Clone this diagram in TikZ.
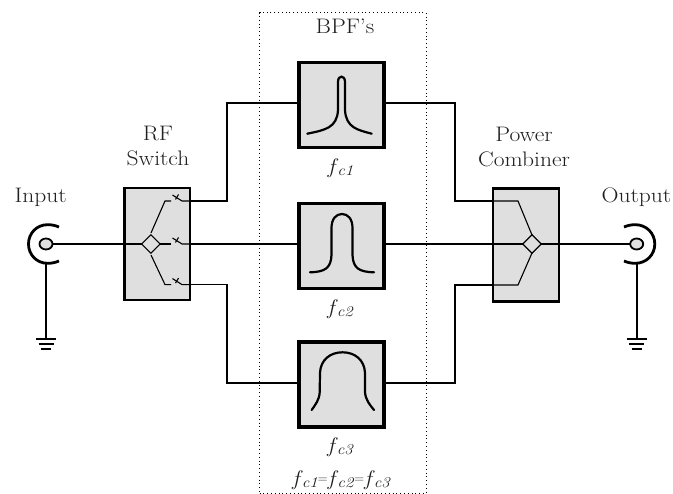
\documentclass[tikz,border=0pt]{standalone}
\usepackage{fontspec}
\setmainfont{Latin Modern Roman}[FakeStretch=1.12]
\usetikzlibrary{calc,shapes.geometric}
\definecolor{boxfill}{HTML}{DFDFDF}
\definecolor{txt}{HTML}{202020}
\newcommand{\fc}[1]{\textit{f}\hspace{-1pt}\raisebox{-2pt}{\fontsize{15}{16}\selectfont\textit{c#1}}}
\newcommand{\eqs}{\raisebox{3pt}{\fontsize{12}{12}\selectfont=}}
\tikzset{
  lab/.style={text=txt,inner sep=0,outer sep=0,font=\fontsize{21}{24}\selectfont,align=center},
  flab/.style={text=txt,inner sep=0,outer sep=0,font=\fontsize{21}{22}\selectfont},
  wire/.style={line width=1.6pt},
  thinwire/.style={line width=1.1pt},
  unit/.style={draw=black,fill=boxfill,line width=2.2pt,inner sep=0,outer sep=0},
  bpf/.style={draw=black,fill=boxfill,line width=3.4pt,minimum width=85pt,minimum height=85pt,inner sep=0,outer sep=0},
  curve/.style={line width=2.2pt,line cap=round},
  port/.style={ellipse,draw=black,fill=boxfill,line width=1.8pt,minimum width=13pt,minimum height=11pt,inner sep=0,outer sep=0},
  dia/.style={line width=1.1pt,fill=boxfill},
  bar/.style={line width=1.5pt},
  ring/.style={line width=2.8pt}
}
\begin{document}
\begin{tikzpicture}[x=1pt,y=-1pt]
\useasboundingbox (0,0) rectangle (673,494);
% dotted frame
\node[draw=black,line width=0.8pt,dash pattern=on 0.8pt off 3pt,minimum width=166.5pt,minimum height=480.5pt,inner sep=0,outer sep=0] (frame) at (342.8,252.8) {};
% filters
\node[bpf] (f1) at (341.5,105) {};
\node[bpf] (f2) at (341.5,245.8) {};
\node[bpf] (f3) at (341.5,384.5) {};
% units
\node[unit,minimum width=65.5pt,minimum height=112pt] (sw) at (157.3,244) {};
\node[unit,minimum width=65.5pt,minimum height=113pt] (pc) at (526,245) {};
% internal coordinates
\coordinate (swU) at (190.3,201);
\coordinate (swM) at (190.3,244);
\coordinate (swL) at (190.3,284.6);
\coordinate (j1) at (227,201);
\coordinate (j2) at (227,103);
\coordinate (j3) at (227,284.6);
\coordinate (j4) at (227,383);
\coordinate (k1) at (455,103);
\coordinate (k2) at (455,201);
\coordinate (k3) at (455,383);
\coordinate (k4) at (455,285);
\coordinate (pcU) at (493.3,201);
\coordinate (pcM) at (493.3,244);
\coordinate (pcL) at (493.3,285);
\coordinate (pcR) at (558.8,244);
\coordinate (f1W) at (299,103);
\coordinate (f1E) at (384,103);
\coordinate (f2W) at (299,244);
\coordinate (f2E) at (384,244);
\coordinate (f3W) at (299,383);
\coordinate (f3E) at (384,383);
\coordinate (inC) at (46,244);
\coordinate (outC) at (636.7,244);
\coordinate (gi) at (46,339);
\coordinate (go) at (636.7,339);
% connectors
\draw[wire] (swU) -- (j1) -- (j2) -- (f1W);
\draw[wire] (swM) -- (f2W);
\draw[wire] (swL) -- (j3) -- (j4) -- (f3W);
\draw[wire] (f1E) -- (k1) -- (k2) -- (pcU);
\draw[wire] (f2E) -- (pcM);
\draw[wire] (f3E) -- (k3) -- (k4) -- (pcL);
% input
\node[port] (inP) at (inC) {};
\draw[wire] (inP.east) -- (sw.west);
\draw[ring] (59,227) .. controls (55,225.3) and (51.5,224.7) .. (47.5,224.7) .. controls (37,224.7) and (28.5,233) .. (28.5,244) .. controls (28.5,255) and (37,263.3) .. (47.5,263.3) .. controls (51.5,263.3) and (55,262.7) .. (59,261);
\draw[wire] (46,263) -- (gi);
\draw[bar] (36,339) -- (56,339);
\draw[bar] (38.5,344) -- (53.5,344);
\draw[bar] (41,349) -- (51,349);
% output
\node[port] (outP) at (outC) {};
\draw[wire] (pcR) -- (outP.west);
\draw[ring] (624,227) .. controls (628,225.3) and (631.5,224.7) .. (635.5,224.7) .. controls (646,224.7) and (654.8,233) .. (654.8,244) .. controls (654.8,255) and (646,263.3) .. (635.5,263.3) .. controls (631.5,263.3) and (628,262.7) .. (624,261);
\draw[wire] (636.7,263) -- (go);
\draw[bar] (626.5,339) -- (646.5,339);
\draw[bar] (629,344) -- (644,344);
\draw[bar] (631.5,349) -- (641.5,349);
% switch inner
\node[diamond,draw=black,dia,minimum width=18.5pt,minimum height=18.5pt,inner sep=0,outer sep=0] (d1) at (150.8,244) {};
\draw[thinwire] (sw.west) -- (d1.west);
\draw[thinwire] (d1.east) -- (171,244);
\draw[thinwire] (151,233) -- (165,201) -- (171,201);
\draw[thinwire] (151,255) -- (165,284.6) -- (171,284.6);
\foreach \yy in {201,244,284.6}{
  \draw[thinwire] (172.5,\yy-6) -- (182,\yy) -- (190,\yy);
  \draw[thinwire] (178.5,\yy-6.5) -- (175.5,\yy-1.5);
}
% combiner inner
\node[diamond,draw=black,dia,minimum width=18.5pt,minimum height=18.5pt,inner sep=0,outer sep=0] (d2) at (532,244) {};
\draw[thinwire] (pcM) -- (d2.west);
\draw[thinwire] (d2.east) -- (pcR);
\draw[thinwire] (pcU) -- (518,201) -- (532,235);
\draw[thinwire] (pcL) -- (518,285) -- (532,253);
% curves
\draw[curve] (307.3,133.7) .. controls (325,130) and (337,128) .. (338,110) -- (338,82) .. controls (338,78) and (340,76.7) .. (341.5,76.7) .. controls (343,76.7) and (345,78) .. (345,82) -- (345,110) .. controls (346,128) and (358,130) .. (371.7,133.7);
\draw[curve] (310,272.3) .. controls (325,272) and (331,268) .. (331.5,255) -- (331.5,228) .. controls (331.5,219) and (336,214) .. (342,214) .. controls (348,214) and (352.5,219) .. (352.5,228) -- (352.5,255) .. controls (353,268) and (359,272) .. (374,272.3);
\draw[curve] (311.7,410) .. controls (315,405) and (319.5,400) .. (319.7,392) -- (320,373) .. controls (320.5,360) and (330,352.3) .. (342.5,352.3) .. controls (355,352.3) and (364.5,360) .. (365,373) -- (365,392) .. controls (365.5,400) and (370,405) .. (374,410);
% text
\node[lab] (tin) at (40.7,197) {Input};
\node[lab] (tout) at (636.5,197) {Output};
\node[lab] (trf) at (158,133) {RF};
\node[lab] (tsw) at (158,158) {Switch};
\node[lab] (tpw) at (524,134) {Power};
\node[lab] (tcb) at (524,159) {Combiner};
\node[lab] (tbpf) at (345,26) {BPF's};
\node[flab] (l1) at (340.5,168) {\fc{1}};
\node[flab] (l2) at (340.5,309) {\fc{2}};
\node[flab] (l3) at (340.5,447) {\fc{3}};
\node[flab] (l4) at (341.5,480) {\fc{1}\eqs\fc{2}\eqs\fc{3}};
\end{tikzpicture}
\end{document}
